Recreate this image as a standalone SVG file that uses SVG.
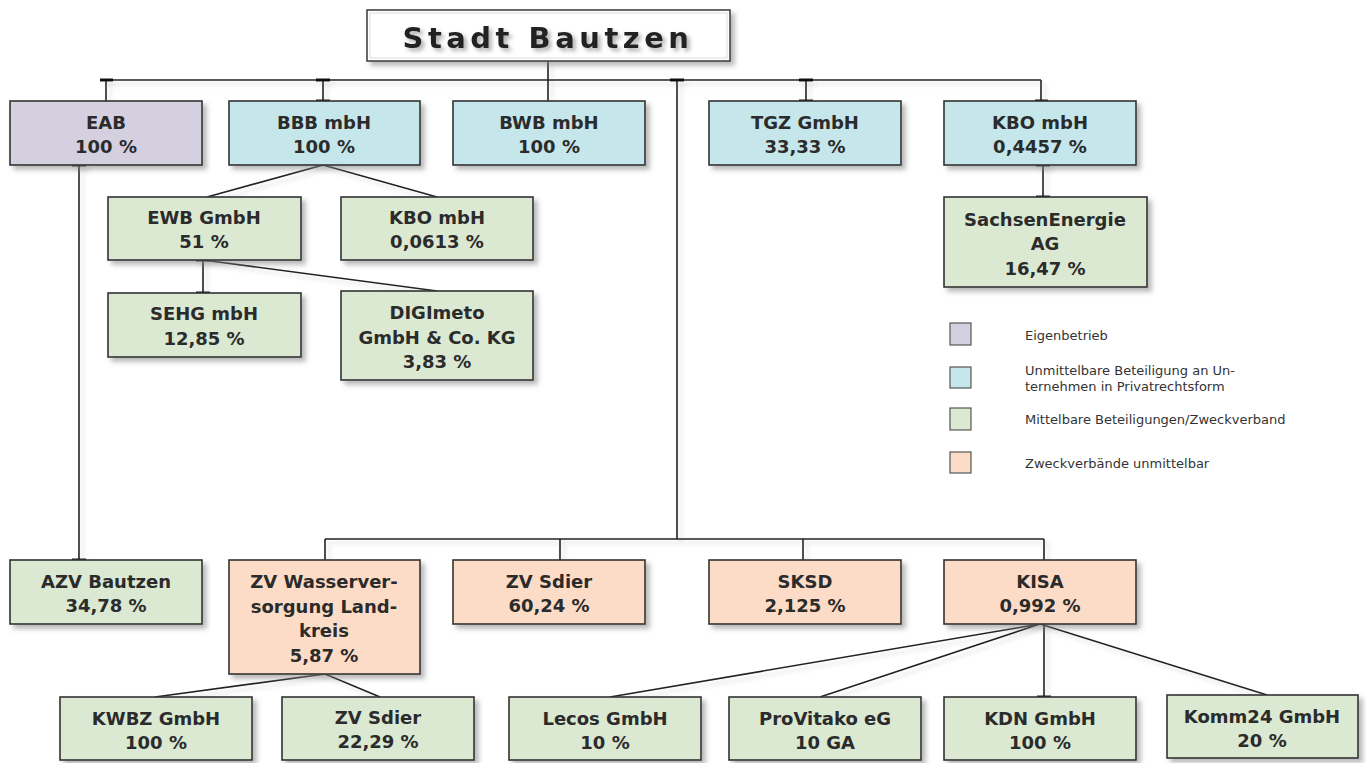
<svg xmlns="http://www.w3.org/2000/svg" width="1366" height="763" viewBox="0 0 1366 763">
<defs>
<filter id="sh" x="-10%" y="-10%" width="130%" height="140%">
<feDropShadow dx="4" dy="4" stdDeviation="2.5" flood-color="#808080" flood-opacity="0.55"/>
</filter>
<filter id="lsh" x="-10%" y="-10%" width="130%" height="130%">
<feDropShadow dx="4" dy="4" stdDeviation="2" flood-color="#9a9a9a" flood-opacity="0.35"/>
</filter>
<filter id="tsh" x="-10%" y="-20%" width="130%" height="160%">
<feDropShadow dx="3" dy="3" stdDeviation="2" flood-color="#777" flood-opacity="0.6"/>
</filter>
</defs>
<style>
.box{stroke:#333;stroke-width:1.6;filter:url(#sh)}
.eig{fill:#d5d0e0}
.unm{fill:#c5e6ea}
.mit{fill:#dbe8d2}
.zwe{fill:#fddcc7}
.t{font-family:"DejaVu Sans",Verdana,sans-serif;font-weight:bold;font-size:18px;fill:#2b2b2b;text-anchor:middle}
.lg{font-family:"DejaVu Sans",Verdana,sans-serif;font-size:13px;fill:#333}
.lgb{stroke:#555;stroke-width:1.2}
.ln{stroke:#222;stroke-width:1.6;fill:none}
.cap{fill:#111}
</style>
<rect width="1366" height="763" fill="#ffffff"/>

<g id="connectors" filter="url(#lsh)">
<path class="ln" d="M548 60V80M106 80H1041M106 80V101M323 80V101M548 80V101M677 80V539M806 80V101M1041 80V101"/>
<path class="ln" d="M79 165V560"/>
<path class="ln" d="M323 165L207 197M323 165L437 197"/>
<path class="ln" d="M203 260V293M203 260L437 291"/>
<path class="ln" d="M1043 165V197"/>
<path class="ln" d="M325 539H1044M325 539V560M560 539V560M803 539V560M1044 539V560"/>
<path class="ln" d="M325 674L155 697M325 674L380 697"/>
<path class="ln" d="M1040 624L610 697M1040 624L820 697M1044 624V697M1040 624L1267 695"/>
<rect class="cap" x="100" y="78.5" width="13" height="3"/>
<rect class="cap" x="316" y="78.5" width="14" height="3"/>
<rect class="cap" x="316" y="99.5" width="14" height="3"/>
<rect class="cap" x="670" y="78.5" width="14" height="3"/>
<rect class="cap" x="799" y="78.5" width="14" height="3"/>
<rect class="cap" x="799" y="99.5" width="14" height="3"/>
<rect class="cap" x="1035" y="99.5" width="13" height="3"/>
<rect class="cap" x="72" y="163.5" width="14" height="3"/>
<rect class="cap" x="72" y="558.5" width="14" height="3"/>
<rect class="cap" x="1036" y="163.5" width="14" height="3"/>
<rect class="cap" x="1036" y="195.5" width="14" height="3"/>
<rect class="cap" x="196" y="258.5" width="14" height="3"/>
<rect class="cap" x="196" y="291.5" width="14" height="3"/>
<rect class="cap" x="1037" y="695.5" width="14" height="3"/>
</g>

<g id="stadt">
<rect x="367" y="10" width="363" height="51" fill="#ffffff" stroke="#444" stroke-width="1.6" filter="url(#sh)"/>
<rect x="370" y="13" width="357" height="45" fill="none" stroke="#ddd" stroke-width="1"/>
<text x="548" y="48" font-family="DejaVu Sans,Verdana,sans-serif" font-weight="bold" font-size="29" letter-spacing="4.5" fill="#222" text-anchor="middle" filter="url(#tsh)">Stadt Bautzen</text>
</g>

<g id="eab"><rect class="box eig" x="10" y="101" width="192" height="64"/><text class="t" x="106" y="129">EAB</text><text class="t" x="106" y="153">100 %</text></g>
<g id="bbb"><rect class="box unm" x="229" y="101" width="191" height="64"/><text class="t" x="324" y="129">BBB mbH</text><text class="t" x="324" y="153">100 %</text></g>
<g id="bwb"><rect class="box unm" x="453" y="101" width="192" height="64"/><text class="t" x="549" y="129">BWB mbH</text><text class="t" x="549" y="153">100 %</text></g>
<g id="tgz"><rect class="box unm" x="709" y="101" width="192" height="64"/><text class="t" x="805" y="129">TGZ GmbH</text><text class="t" x="805" y="153">33,33 %</text></g>
<g id="kbo1"><rect class="box unm" x="944" y="101" width="192" height="64"/><text class="t" x="1040" y="129">KBO mbH</text><text class="t" x="1040" y="153">0,4457 %</text></g>

<g id="ewb"><rect class="box mit" x="108" y="197" width="193" height="63"/><text class="t" x="204" y="224">EWB GmbH</text><text class="t" x="204" y="248">51 %</text></g>
<g id="kbo2"><rect class="box mit" x="341" y="197" width="192" height="63"/><text class="t" x="437" y="224">KBO mbH</text><text class="t" x="437" y="248">0,0613 %</text></g>
<g id="sehg"><rect class="box mit" x="108" y="293" width="193" height="64"/><text class="t" x="204" y="320">SEHG mbH</text><text class="t" x="204" y="345">12,85 %</text></g>
<g id="digimeto"><rect class="box mit" x="341" y="291" width="192" height="89"/><text class="t" x="437" y="319">DIGImeto</text><text class="t" x="437" y="344">GmbH &amp; Co. KG</text><text class="t" x="437" y="368">3,83 %</text></g>
<g id="sachsen"><rect class="box mit" x="944" y="197" width="203" height="90"/><text class="t" x="1045" y="226">SachsenEnergie</text><text class="t" x="1045" y="250">AG</text><text class="t" x="1045" y="275">16,47 %</text></g>

<g id="legend">
<rect class="lgb eig" x="950" y="323" width="21" height="22"/>
<text class="lg" x="1025" y="340">Eigenbetrieb</text>
<rect class="lgb unm" x="950" y="367" width="21" height="21"/>
<text class="lg" x="1025" y="375">Unmittelbare Beteiligung an Un-</text>
<text class="lg" x="1025" y="391">ternehmen in Privatrechtsform</text>
<rect class="lgb mit" x="950" y="408" width="21" height="22"/>
<text class="lg" x="1025" y="424">Mittelbare Beteiligungen/Zweckverband</text>
<rect class="lgb zwe" x="950" y="452" width="21" height="21"/>
<text class="lg" x="1025" y="468">Zweckverbände unmittelbar</text>
</g>

<g id="azv"><rect class="box mit" x="10" y="560" width="192" height="64"/><text class="t" x="106" y="588">AZV Bautzen</text><text class="t" x="106" y="612">34,78 %</text></g>
<g id="zvwasser"><rect class="box zwe" x="229" y="560" width="191" height="114"/><text class="t" x="324" y="588">ZV Wasserver-</text><text class="t" x="324" y="613">sorgung Land-</text><text class="t" x="324" y="637">kreis</text><text class="t" x="324" y="662">5,87 %</text></g>
<g id="zvsdier1"><rect class="box zwe" x="453" y="560" width="192" height="64"/><text class="t" x="549" y="588">ZV Sdier</text><text class="t" x="549" y="612">60,24 %</text></g>
<g id="sksd"><rect class="box zwe" x="709" y="560" width="192" height="64"/><text class="t" x="805" y="588">SKSD</text><text class="t" x="805" y="612">2,125 %</text></g>
<g id="kisa"><rect class="box zwe" x="944" y="560" width="192" height="64"/><text class="t" x="1040" y="588">KISA</text><text class="t" x="1040" y="612">0,992 %</text></g>

<g id="kwbz"><rect class="box mit" x="60" y="697" width="192" height="63"/><text class="t" x="156" y="725">KWBZ GmbH</text><text class="t" x="156" y="749">100 %</text></g>
<g id="zvsdier2"><rect class="box mit" x="282" y="697" width="192" height="63"/><text class="t" x="378" y="724">ZV Sdier</text><text class="t" x="378" y="748">22,29 %</text></g>
<g id="lecos"><rect class="box mit" x="509" y="697" width="192" height="63"/><text class="t" x="605" y="725">Lecos GmbH</text><text class="t" x="605" y="749">10 %</text></g>
<g id="provitako"><rect class="box mit" x="729" y="697" width="192" height="63"/><text class="t" x="825" y="725">ProVitako eG</text><text class="t" x="825" y="749">10 GA</text></g>
<g id="kdn"><rect class="box mit" x="944" y="697" width="192" height="63"/><text class="t" x="1040" y="725">KDN GmbH</text><text class="t" x="1040" y="749">100 %</text></g>
<g id="komm24"><rect class="box mit" x="1167" y="695" width="191" height="63"/><text class="t" x="1262" y="723">Komm24 GmbH</text><text class="t" x="1262" y="747">20 %</text></g>
</svg>
